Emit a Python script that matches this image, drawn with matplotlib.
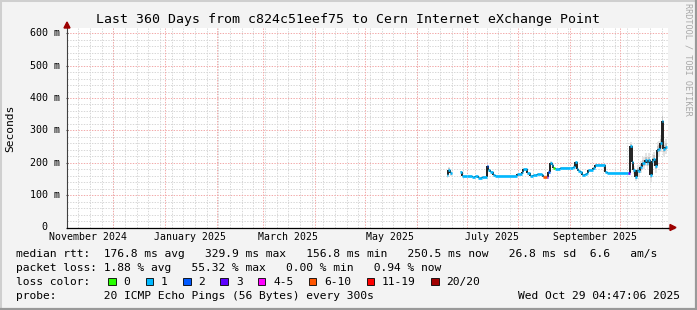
import datetime as dt
import numpy as np
import matplotlib
matplotlib.use("Agg")
import matplotlib.pyplot as plt
import matplotlib.dates as mdates
from matplotlib.lines import Line2D
from matplotlib.patches import Rectangle, Polygon

W, H = 697, 310
START = dt.datetime(2024, 11, 3, 4, 47, 6)
END = dt.datetime(2025, 10, 29, 4, 47, 6)

TITLE = "Last 360 Days from c824c51eef75 to Cern Internet eXchange Point"

# one entry per sample: start day, median rtt (ms), loss class, smoke half-width (ms)
days = ["2025-06-19", "2025-06-20", "2025-06-21", "2025-06-22", "2025-06-27", "2025-06-28",
        "2025-07-01", "2025-07-04", "2025-07-06", "2025-07-08", "2025-07-10", "2025-07-13",
        "2025-07-14", "2025-07-15", "2025-07-17", "2025-07-18", "2025-07-31", "2025-08-03",
        "2025-08-04", "2025-08-06", "2025-08-08", "2025-08-10", "2025-08-12", "2025-08-15",
        "2025-08-16", "2025-08-18", "2025-08-19", "2025-08-20", "2025-08-21", "2025-08-22",
        "2025-08-23", "2025-08-26", "2025-09-01", "2025-09-03", "2025-09-04", "2025-09-05",
        "2025-09-06", "2025-09-07", "2025-09-08", "2025-09-10", "2025-09-11", "2025-09-12",
        "2025-09-15", "2025-09-16", "2025-09-22", "2025-09-23", "2025-10-06", "2025-10-07",
        "2025-10-08", "2025-10-09", "2025-10-10", "2025-10-11", "2025-10-12", "2025-10-13",
        "2025-10-14", "2025-10-16", "2025-10-17", "2025-10-18", "2025-10-19", "2025-10-20",
        "2025-10-21", "2025-10-22", "2025-10-23", "2025-10-24", "2025-10-25", "2025-10-26",
        "2025-10-27", "2025-10-28"]
median = [162, 178, 168, np.nan, 172, 159,
          158, 156, 158, 154, 157, 190,
          178, 172, 162, 159, 164, 172,
          180, 167, 159, 162, 164, 162,
          157, 157, 172, 200, 194, 184,
          182, 185, 185, 188, 201, 180,
          175, 170, 162, 164, 167, 178,
          184, 193, 170, 167, 167, 253,
          203, 178, 157, 178, 176, 186,
          199, 209, 199, 209, 162, 205,
          212, 191, 239, 244, 260, 330,
          244, 250]
loss = [1, 1, 1, 1, 1, 1,
        1, 1, 1, 1, 1, 2,
        1, 1, 1, 1, 1, 1,
        1, 1, 1, 1, 1, 1,
        5, 3, 2, 1, 1, 0,
        1, 1, 1, 1, 1, 1,
        1, 1, 1, 1, 1, 1,
        1, 1, 1, 1, 3, 1,
        1, 1, 1, 1, 1, 1,
        1, 1, 1, 1, 1, 1,
        1, 1, 1, 1, 1, 1,
        1, 1]
spread = [8, 10, 8, 0, 4, 3,
          3, 3, 3, 3, 3, 5,
          4, 4, 3, 3, 3, 4,
          4, 4, 3, 3, 3, 3,
          4, 4, 5, 6, 5, 4,
          3, 3, 3, 4, 5, 4,
          4, 4, 3, 3, 4, 4,
          4, 4, 3, 3, 4, 10,
          12, 12, 12, 14, 16, 18,
          18, 20, 20, 20, 20, 22,
          22, 22, 24, 24, 26, 26,
          24, 22]

loss_labels = ["0", "1", "2", "3", "4-5", "6-10", "11-19", "20/20"]
loss_colors = ["#26ff00", "#00b8ff", "#0059ff", "#5e00ff", "#ff00ff", "#ff5500", "#ff0000", "#a10000"]

yticks = [0, 100, 200, 300, 400, 500, 600]
label_months = ["2024-11-01", "2025-01-01", "2025-03-01", "2025-05-01", "2025-07-01", "2025-09-01"]

legend_rows = [
    "median rtt:  176.8 ms avg   329.9 ms max   156.8 ms min   250.5 ms now   26.8 ms sd  6.6   am/s",
    "packet loss: 1.88 % avg   55.32 % max   0.00 % min   0.94 % now",
    "loss color:",
    "probe:       20 ICMP Echo Pings (56 Bytes) every 300s",
]
stamp = "Wed Oct 29 04:47:06 2025"

MONO = "DejaVu Sans Mono"
BG = "#f3f3f3"

fig = plt.figure(figsize=(W / 100, H / 100), dpi=100, facecolor=BG)


def fx(px):
    return px / W


def fy(py):
    return 1 - py / H


ax = fig.add_axes([fx(67), fy(227.5), fx(668) - fx(67), fy(28) - fy(227.5)])
ax.set_facecolor("white")
t0 = mdates.date2num(START)
t1 = mdates.date2num(END) + 0.6
ax.set_xlim(t0, t1)
ax.set_ylim(0, 616.3)

# grid: weeks / 20 ms minor, months / 100 ms major
for d in mdates.WeekdayLocator(byweekday=mdates.SU).tick_values(START, END):
    ax.axvline(d, color="#d6d6d6", lw=0.7, dashes=(1.4, 1.4), zorder=0)
for v in range(20, 620, 20):
    if v % 100:
        ax.axhline(v, color="#d6d6d6", lw=0.7, dashes=(1.4, 1.4), zorder=0)
for d in mdates.MonthLocator().tick_values(START, END):
    if t0 < d < t1:
        ax.axvline(d, color="#f2a8a8", lw=0.7, dashes=(1.4, 1.4), zorder=0.5)
for v in yticks[1:]:
    ax.axhline(v, color="#f2a8a8", lw=0.7, dashes=(1.4, 1.4), zorder=0.5)

# data
x = mdates.date2num([dt.datetime.fromisoformat(s) for s in days])
xe = np.append(x[1:], mdates.date2num(END))
med = np.array(median, float)
spr = np.array(spread, float)

xs = np.column_stack([x, xe]).ravel()
ms = np.repeat(med, 2)
ss = np.repeat(spr, 2)
ax.fill_between(xs, ms - ss, ms + ss, color="#e4e4e4", lw=0, zorder=1)
ax.fill_between(xs, ms - ss * 0.5, ms + ss * 0.5, color="#c4c4c4", lw=0, zorder=1.1)

ax.vlines(x[1:], med[:-1], med[1:], color="#202020", lw=1.4, zorder=2)
ax.hlines(med, x, xe, colors=[loss_colors[k] for k in loss], lw=1.9, zorder=3)

# axes
for s in ["top", "right"]:
    ax.spines[s].set_visible(False)
ax.spines["left"].set_color("#404040")
ax.spines["bottom"].set_color("#000000")
ax.spines["left"].set_linewidth(0.8)
ax.spines["bottom"].set_linewidth(0.9)
ax.add_line(Line2D([1.0, 1.01], [0, 0], transform=ax.transAxes, color="black", lw=0.9, clip_on=False))
ax.add_line(Line2D([0, 0], [1.0, 1.02], transform=ax.transAxes, color="#404040", lw=0.8, clip_on=False))
fig.add_artist(Polygon([[fx(670), fy(224.5)], [fx(676), fy(227.5)], [fx(670), fy(230.5)]],
                       closed=True, color="#9c0000", transform=fig.transFigure))
fig.add_artist(Polygon([[fx(64), fy(28)], [fx(67), fy(22)], [fx(70), fy(28)]],
                       closed=True, color="#9c0000", transform=fig.transFigure))

ax.set_yticks(yticks)
ax.set_yticklabels([])
ax.tick_params(axis="y", length=2, direction="inout", color="#404040")
ax.set_xticks([mdates.date2num(dt.datetime.fromisoformat(s)) + 15 for s in label_months])
ax.set_xticklabels([dt.datetime.fromisoformat(s).strftime("%B %Y") for s in label_months],
                   fontfamily=MONO, fontsize=7.1)
ax.tick_params(axis="x", length=0, pad=3.2)
ytr = ax.get_yaxis_transform()
for v in yticks:
    lab = f"{v} m" if v else "0"
    ax.text(-0.0117 if v else -0.032, v, lab, transform=ytr, ha="right", va="center",
            fontfamily=MONO, fontsize=7.2)

# texts
fig.text(fx(348), fy(19), TITLE, ha="center", va="center", fontfamily=MONO, fontsize=9.55)
fig.text(fx(10), fy(128), "Seconds", rotation=90, ha="center", va="center", fontfamily=MONO, fontsize=8.1)
fig.text(fx(688), fy(59), "RRDTOOL / TOBI OETIKER", rotation=270, ha="center", va="center",
         fontfamily=MONO, fontsize=6.1, color="#a8a8a8")
row_y = [254, 268.3, 281.7, 296]
for txt, py in zip(legend_rows, row_y):
    fig.text(fx(16), fy(py), txt, ha="left", va="center", fontfamily=MONO, fontsize=8.1)
fig.text(fx(680), fy(row_y[3]), stamp, ha="right", va="center", fontfamily=MONO, fontsize=8.1)

cw = 6.79
px = 108.3
for lab, col in zip(loss_labels, loss_colors):
    fig.add_artist(Rectangle((fx(px), fy(285)), 7.5 / W, 7.5 / H, facecolor=col, edgecolor="black",
                             lw=0.6, transform=fig.transFigure))
    fig.text(fx(px + 15.3), fy(row_y[2]), lab, ha="left", va="center", fontfamily=MONO, fontsize=8.1)
    px += 15.3 + len(lab) * cw + 15.3

# 3d frame
fig.add_artist(Rectangle((0, 0), 1, 1, fill=False, edgecolor="#cfcfcf", lw=2.2, transform=fig.transFigure))
fig.add_artist(Line2D([0, 1], [fy(309), fy(309)], color="#999999", lw=1.6, transform=fig.transFigure))
fig.add_artist(Line2D([fx(696), fx(696)], [0, 1], color="#999999", lw=1.6, transform=fig.transFigure))

fig.savefig("out.png", dpi=100, facecolor=BG)
